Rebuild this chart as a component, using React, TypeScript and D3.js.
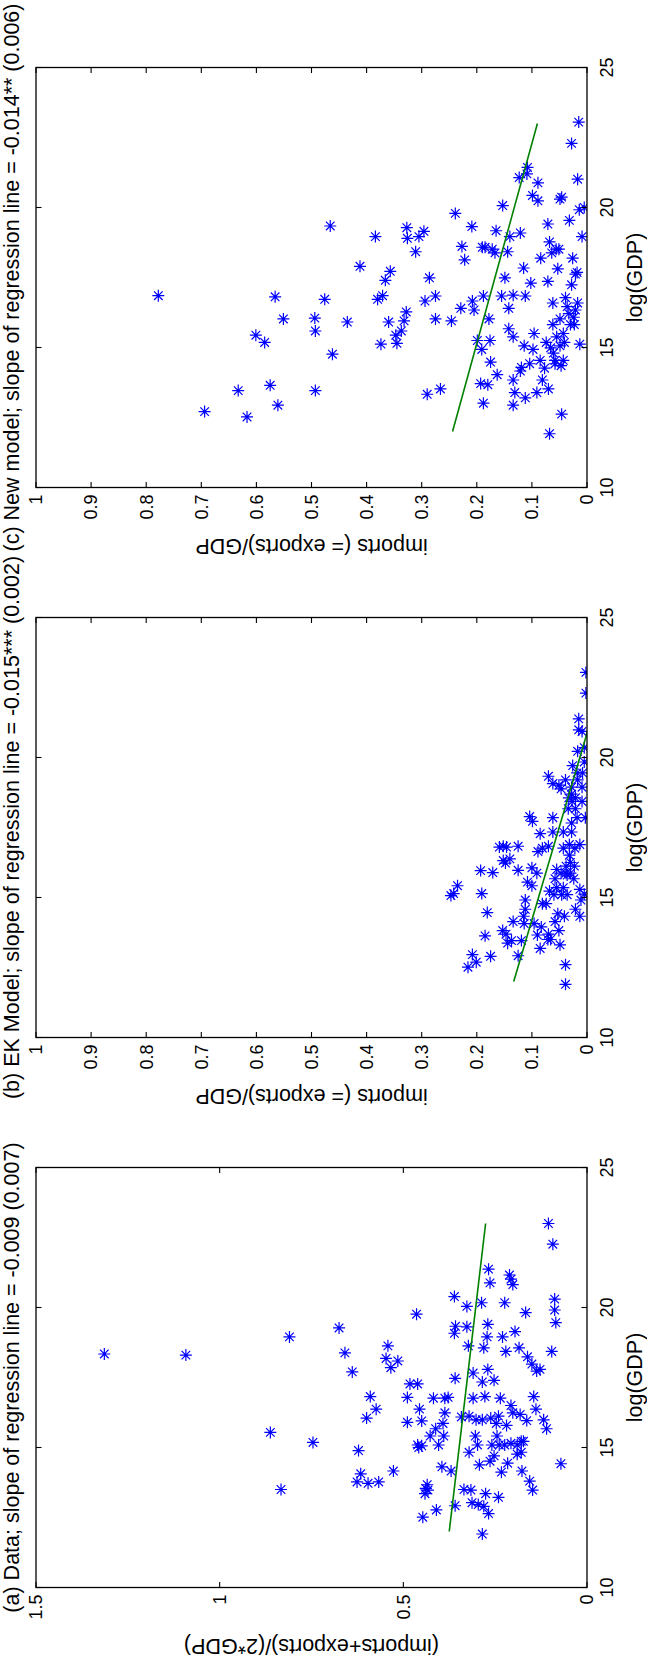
import React from "react";
import * as d3 from "d3";

// Axis ranges and ticks
const X_DOMAIN: [number, number] = [10, 25];
const X_TICKS = [10, 15, 20, 25];
const Y_TICKS_A = [0, 0.5, 1, 1.5];
const Y_TICK_LABELS_A = ["0", "0.5", "1", "1.5"];
const Y_TICKS_BC = [0, 0.1, 0.2, 0.3, 0.4, 0.5, 0.6, 0.7, 0.8, 0.9, 1];
const Y_TICK_LABELS_BC = ["0", "0.1", "0.2", "0.3", "0.4", "0.5", "0.6", "0.7", "0.8", "0.9", "1"];

const TITLES = [
  "(a) Data; slope of regression line = -0.009 (0.007)",
  "(b) EK Model; slope of regression line = -0.015*** (0.002)",
  "(c) New model; slope of regression line = -0.014** (0.006)",
];
const Y_LABELS = [
  "(imports+exports)/(2*GDP)",
  "imports (= exports)/GDP",
  "imports (= exports)/GDP",
];
const X_LABEL = "log(GDP)";

// Regression lines: slope, fitted value at log(GDP) = 12, and x extent
const FIT_SLOPES = [-0.009, -0.015, -0.014];
const FIT_AT_START = [0.375, 0.133, 0.244];
const FIT_RANGE: [number, number] = [12, 23];

// [log(GDP), trade share]
const dataA: [number, number][] = [
  [18.34, 1.314], [18.30, 1.092], [18.95, 0.810], [19.27, 0.675], [18.38, 0.659],
  [17.70, 0.639], [15.54, 0.862], [15.18, 0.746], [13.50, 0.833], [14.89, 0.622],
  [14.06, 0.616], [13.77, 0.626], [13.72, 0.596], [13.77, 0.567], [14.16, 0.527],
  [16.82, 0.590], [16.37, 0.574], [16.05, 0.600], [18.63, 0.542], [18.18, 0.547],
  [18.09, 0.515], [17.85, 0.534], [19.76, 0.464], [16.79, 0.489], [17.27, 0.482],
  [17.27, 0.461], [15.90, 0.489], [16.37, 0.456], [15.95, 0.450], [15.09, 0.461],
  [15.00, 0.458], [15.06, 0.450], [12.51, 0.447], [13.54, 0.439], [13.67, 0.435],
  [13.35, 0.441], [13.48, 0.433], [12.77, 0.410], [15.41, 0.427], [16.76, 0.418],
  [15.67, 0.412], [15.09, 0.404], [14.31, 0.395], [16.76, 0.387], [16.24, 0.387],
  [15.86, 0.392], [16.79, 0.378], [15.41, 0.390], [14.16, 0.370], [20.39, 0.361],
  [19.33, 0.358], [19.08, 0.361], [17.47, 0.359], [12.92, 0.359], [16.09, 0.342],
  [13.50, 0.335], [20.04, 0.327], [19.31, 0.327], [18.63, 0.323], [16.12, 0.321],
  [14.83, 0.321], [13.48, 0.316], [13.03, 0.313], [17.66, 0.310], [16.76, 0.310],
  [15.41, 0.304], [15.09, 0.298], [15.99, 0.302], [12.96, 0.296], [14.38, 0.293],
  [20.17, 0.287], [17.34, 0.285], [15.99, 0.285], [11.91, 0.285], [18.56, 0.281],
  [16.82, 0.278], [13.35, 0.276], [18.95, 0.272], [19.40, 0.270], [17.79, 0.270],
  [12.64, 0.268], [21.37, 0.268], [20.88, 0.264], [14.51, 0.264], [16.05, 0.262],
  [17.40, 0.253], [15.86, 0.247], [15.41, 0.245], [13.22, 0.241], [15.09, 0.239],
  [16.76, 0.236], [14.12, 0.233], [18.95, 0.230], [20.17, 0.224], [18.43, 0.221],
  [15.79, 0.219], [14.44, 0.216], [21.16, 0.211], [21.01, 0.207], [20.82, 0.202],
  [16.50, 0.207], [16.24, 0.202], [19.14, 0.196], [15.09, 0.190], [14.76, 0.190],
  [18.56, 0.185], [16.18, 0.182], [15.22, 0.179], [14.16, 0.177], [15.22, 0.173],
  [19.82, 0.167], [15.96, 0.164], [18.24, 0.162], [17.98, 0.150], [13.48, 0.148],
  [13.80, 0.156], [16.82, 0.145], [16.37, 0.139], [17.73, 0.137], [17.79, 0.128],
  [15.99, 0.118], [15.67, 0.110], [23.00, 0.105], [22.26, 0.093], [20.30, 0.088],
  [19.91, 0.088], [19.46, 0.085], [18.43, 0.096], [14.42, 0.071], [15.09, 0.259],
  [14.70, 0.253], [15.09, 0.224], [16.12, 0.241], [15.15, 0.207], [14.83, 0.179],
  [12.90, 0.281],
];

const dataB: [number, number][] = [
  [15.07, 0.247], [15.14, 0.242], [15.42, 0.235], [12.51, 0.216], [12.96, 0.208],
  [12.69, 0.201], [15.14, 0.191], [15.96, 0.193], [13.63, 0.185], [14.46, 0.181],
  [12.90, 0.175], [15.89, 0.171], [16.80, 0.159], [16.83, 0.152], [16.32, 0.152],
  [16.23, 0.148], [16.38, 0.140], [16.80, 0.146], [13.82, 0.153], [13.69, 0.147],
  [13.37, 0.144], [13.46, 0.137], [14.14, 0.134], [16.83, 0.125], [15.97, 0.125],
  [12.92, 0.125], [13.46, 0.119], [14.33, 0.115], [14.07, 0.114], [14.58, 0.112],
  [14.91, 0.112], [15.55, 0.108], [17.89, 0.104], [17.72, 0.099], [16.06, 0.100],
  [15.42, 0.100], [14.07, 0.096], [13.66, 0.090], [13.18, 0.085], [13.95, 0.083],
  [16.64, 0.089], [15.87, 0.091], [17.28, 0.085], [16.76, 0.081], [14.78, 0.081],
  [14.78, 0.074], [13.50, 0.071], [19.33, 0.070], [13.69, 0.070], [13.50, 0.066],
  [16.83, 0.070], [15.23, 0.068], [17.85, 0.062], [17.34, 0.062], [15.67, 0.058],
  [14.14, 0.058], [16.00, 0.055], [15.35, 0.055], [14.42, 0.053], [13.31, 0.049],
  [19.01, 0.051], [18.88, 0.047], [15.10, 0.046], [17.34, 0.043], [16.76, 0.043],
  [15.35, 0.043], [14.33, 0.041], [12.60, 0.039], [11.90, 0.039], [19.20, 0.039],
  [16.12, 0.038], [15.87, 0.038], [15.10, 0.036], [18.17, 0.034], [18.56, 0.033],
  [16.51, 0.032], [16.89, 0.032], [15.87, 0.030], [16.25, 0.030], [17.34, 0.028],
  [17.66, 0.028], [18.94, 0.028], [18.43, 0.027], [19.71, 0.026], [15.67, 0.024],
  [16.12, 0.023], [16.76, 0.022], [18.56, 0.021], [17.85, 0.018], [19.20, 0.017],
  [20.22, 0.017], [20.99, 0.015], [21.38, 0.015], [14.33, 0.013], [15.29, 0.013],
  [14.91, 0.011], [18.94, 0.009], [18.43, 0.009], [19.45, 0.008], [20.35, 0.005],
  [15.12, 0.005], [17.85, 0.003], [22.30, 0.002], [23.04, 0.002], [19.84, 0.005],
  [20.93, 0.009], [15.87, 0.047], [15.80, 0.036], [13.82, 0.051], [19.07, 0.062],
  [18.17, 0.021], [18.69, 0.028], [16.89, 0.013], [14.58, 0.021], [15.10, 0.060],
  [19.45, 0.018],
];

const dataC: [number, number][] = [
  [16.85, 0.778], [12.71, 0.694], [13.46, 0.633], [12.52, 0.617], [15.44, 0.601],
  [15.18, 0.585], [13.65, 0.575], [12.94, 0.561], [16.81, 0.566], [16.02, 0.551],
  [16.05, 0.494], [15.59, 0.493], [13.46, 0.493], [16.72, 0.476], [19.34, 0.466],
  [14.76, 0.462], [15.91, 0.435], [17.90, 0.412], [18.96, 0.384], [16.72, 0.380],
  [15.12, 0.374], [16.85, 0.371], [17.40, 0.366], [17.72, 0.357], [15.91, 0.360],
  [15.44, 0.347], [15.15, 0.345], [15.59, 0.337], [15.95, 0.332], [16.27, 0.328],
  [19.28, 0.327], [18.90, 0.326], [18.42, 0.311], [18.96, 0.305], [19.15, 0.296],
  [16.66, 0.294], [13.33, 0.290], [17.49, 0.286], [16.02, 0.275], [16.84, 0.275],
  [13.52, 0.266], [15.95, 0.246], [19.79, 0.239], [18.61, 0.227], [16.40, 0.229],
  [18.13, 0.222], [19.32, 0.209], [16.66, 0.208], [16.34, 0.205], [15.25, 0.199],
  [14.93, 0.191], [13.71, 0.193], [13.01, 0.188], [18.58, 0.190], [18.58, 0.185],
  [16.84, 0.188], [13.67, 0.180], [16.02, 0.178], [15.25, 0.176], [14.48, 0.175],
  [18.51, 0.172], [18.38, 0.167], [19.17, 0.165], [14.03, 0.163], [16.84, 0.155],
  [20.07, 0.153], [17.49, 0.149], [18.42, 0.144], [16.40, 0.142], [15.67, 0.142],
  [18.96, 0.140], [16.87, 0.134], [15.38, 0.134], [13.84, 0.134], [12.94, 0.134],
  [13.39, 0.131], [21.07, 0.123], [19.09, 0.121], [14.16, 0.121], [14.29, 0.119],
  [17.84, 0.115], [15.06, 0.114], [16.84, 0.112], [13.20, 0.112], [21.20, 0.109],
  [21.43, 0.108], [14.42, 0.104], [17.30, 0.102], [20.43, 0.099], [14.93, 0.098],
  [15.50, 0.096], [13.39, 0.091], [20.88, 0.089], [20.24, 0.089], [14.54, 0.085],
  [18.19, 0.084], [13.84, 0.081], [14.26, 0.077], [15.18, 0.074], [19.41, 0.071],
  [17.36, 0.071], [13.52, 0.070], [11.92, 0.068], [18.77, 0.068], [14.99, 0.066],
  [18.38, 0.064], [16.59, 0.062], [15.82, 0.062], [14.80, 0.061], [14.42, 0.058],
  [18.51, 0.056], [15.38, 0.055], [17.81, 0.053], [18.51, 0.051], [20.30, 0.049],
  [20.37, 0.046], [12.62, 0.046], [16.02, 0.049], [15.06, 0.049], [14.35, 0.047],
  [14.54, 0.043], [15.50, 0.043], [16.78, 0.039], [16.46, 0.036], [16.21, 0.033],
  [19.54, 0.032], [17.24, 0.028], [22.29, 0.028], [18.19, 0.026], [16.08, 0.024],
  [15.82, 0.023], [17.62, 0.021], [17.68, 0.018], [16.59, 0.017], [21.01, 0.017],
  [23.05, 0.015], [19.92, 0.014], [15.12, 0.013], [18.96, 0.009], [20.00, 0.005],
  [16.34, 0.021], [15.82, 0.030], [15.18, 0.041], [14.54, 0.058],
];

const PANEL_DATA = [dataA, dataB, dataC];
const Y_MAX = [1.5, 1, 1];
const Y_TICK_SETS = [Y_TICKS_A, Y_TICKS_BC, Y_TICKS_BC];
const Y_TICK_LABEL_SETS = [Y_TICK_LABELS_A, Y_TICK_LABELS_BC, Y_TICK_LABELS_BC];

// Page geometry: every panel is drawn upright and turned a quarter-turn counterclockwise
const PAGE_W = 647;
const PAGE_H = 1665;
const PLOT_W = 420; // log(GDP) axis length
const PLOT_H = 551; // trade-share axis length
const BOX_LEFT = 36;
const PANEL_BOTTOMS = [1587.5, 1037.5, 487.5];
const PANEL_ORDER = [0, 1, 2];

const FONT = "'Liberation Sans', Arial, Helvetica, sans-serif";
const TICK_LEN = 5.5;
const STAR = "M-6,0H6M0,-6V6M-4.3,-4.3L4.3,4.3M-4.3,4.3L4.3,-4.3";

function Panel({ idx }: { idx: number }) {
  const x = d3.scaleLinear().domain(X_DOMAIN).range([0, PLOT_W]);
  const y = d3.scaleLinear().domain([0, Y_MAX[idx]]).range([PLOT_H, 0]);
  const pts = PANEL_DATA[idx];
  const fitLine = d3
    .line<number>()
    .x((v) => x(v))
    .y((v) => y(FIT_AT_START[idx] + FIT_SLOPES[idx] * (v - FIT_RANGE[0])));
  const clipId = `plot-clip-${idx}`;
  const yTicks = Y_TICK_SETS[idx];
  const yLabels = Y_TICK_LABEL_SETS[idx];

  return (
    <g transform={`translate(${BOX_LEFT},${PANEL_BOTTOMS[idx]}) rotate(-90)`}>
      <defs>
        <clipPath id={clipId}>
          <rect x={0} y={0} width={PLOT_W} height={PLOT_H} />
        </clipPath>
      </defs>

      {/* markers and fitted line */}
      <g clipPath={`url(#${clipId})`}>
        {pts.map(([gx, gy], i) => (
          <path
            key={i}
            d={STAR}
            transform={`translate(${x(gx)},${y(gy)})`}
            stroke="#0000ff"
            strokeWidth={1.2}
            fill="none"
          />
        ))}
        <path d={fitLine(FIT_RANGE) || ""} stroke="#008000" strokeWidth={1.6} fill="none" />
      </g>

      {/* box */}
      <rect x={0} y={0} width={PLOT_W} height={PLOT_H} fill="none" stroke="#000" strokeWidth={1.3} />

      {/* x ticks, inward on both sides */}
      {X_TICKS.map((t) => (
        <g key={`xt${t}`}>
          <line x1={x(t)} x2={x(t)} y1={PLOT_H} y2={PLOT_H - TICK_LEN} stroke="#000" strokeWidth={1.1} />
          <line x1={x(t)} x2={x(t)} y1={0} y2={TICK_LEN} stroke="#000" strokeWidth={1.1} />
          <text x={x(t)} y={PLOT_H + 26} textAnchor="middle" fontFamily={FONT} fontSize={18} fill="#000">
            {t}
          </text>
        </g>
      ))}

      {/* y ticks */}
      {yTicks.map((t, i) => (
        <g key={`yt${i}`}>
          <line x1={0} x2={TICK_LEN} y1={y(t)} y2={y(t)} stroke="#000" strokeWidth={1.1} />
          <line x1={PLOT_W} x2={PLOT_W - TICK_LEN} y1={y(t)} y2={y(t)} stroke="#000" strokeWidth={1.1} />
          <text x={-7} y={y(t)} dy="0.35em" textAnchor="end" fontFamily={FONT} fontSize={18} fill="#000">
            {yLabels[i]}
          </text>
        </g>
      ))}

      {/* axis labels and title */}
      <text x={PLOT_W / 2} y={PLOT_H + 54.5} textAnchor="middle" fontFamily={FONT} fontSize={21.5} fill="#000">
        {X_LABEL}
      </text>
      <text
        transform={`translate(-51,${PLOT_H / 2}) rotate(-90)`}
        textAnchor="middle"
        fontFamily={FONT}
        fontSize={21.5}
        fill="#000"
      >
        {Y_LABELS[idx]}
      </text>
      <text x={PLOT_W / 2} y={-17} textAnchor="middle" fontFamily={FONT} fontSize={21.5} fill="#000">
        {TITLES[idx]}
      </text>
    </g>
  );
}

export default function App() {
  return (
    <svg
      width={PAGE_W}
      height={PAGE_H}
      viewBox={`0 0 ${PAGE_W} ${PAGE_H}`}
      style={{ position: "absolute", left: 0, top: 0, background: "#fff" }}
    >
      <rect x={0} y={0} width={PAGE_W} height={PAGE_H} fill="#fff" />
      {PANEL_ORDER.map((i) => (
        <Panel key={i} idx={i} />
      ))}
    </svg>
  );
}
